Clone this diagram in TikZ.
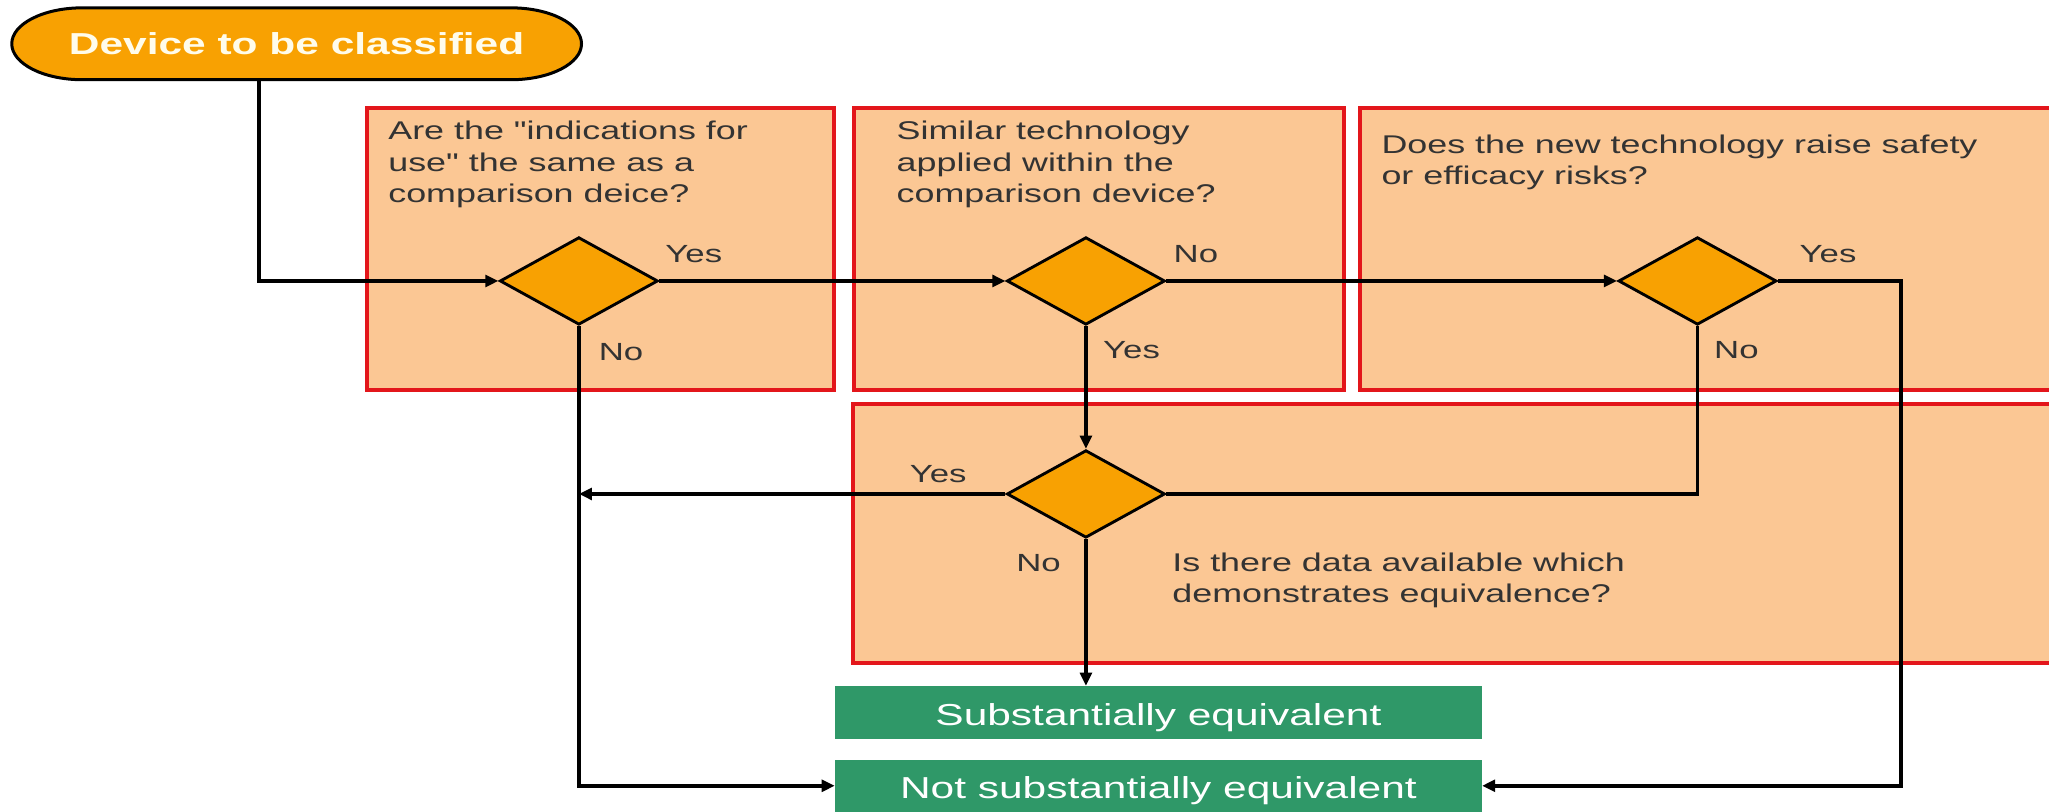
\documentclass[tikz,border=0pt]{standalone}
\usepackage{fontspec}
\setmainfont{Liberation Sans}[FakeStretch=1.4, Ligatures=TeXOff]
\usetikzlibrary{shapes.geometric,arrows.meta,calc}
\definecolor{peach}{HTML}{FBC794}
\definecolor{boxred}{HTML}{E3161B}
\definecolor{dorange}{HTML}{F8A102}
\definecolor{sgreen}{HTML}{2F9868}
\definecolor{txt}{HTML}{333333}
\definecolor{cream}{HTML}{FFFCEB}
\begin{document}
\begin{tikzpicture}[x=1pt,y=1pt,
  qbox/.style={draw=boxred, fill=peach, line width=3pt, rectangle, inner sep=0pt, anchor=north west},
  qtext/.style={anchor=north west, inner sep=0pt, align=left, text=txt, font=\fontsize{19.6}{24}\selectfont},
  lab/.style={anchor=base west, inner sep=0pt, text=txt, font=\fontsize{19}{23}\selectfont},
  dec/.style={diamond, draw=black, fill=dorange, line width=2.2pt, minimum width=121pt, minimum height=67pt, inner sep=0pt},
  res/.style={rectangle, fill=sgreen, text=white, minimum width=495pt, inner sep=0pt, text height=19.4pt, text depth=0pt, font=\fontsize{23.2}{26}\selectfont},
  conn/.style={line width=3pt, draw=black},
  arr/.style={conn, -{Triangle[length=10pt,width=9pt]}},
  startshape/.style={draw=black, fill=dorange, line width=2.3pt},
  starttext/.style={rectangle, inner sep=0pt, minimum width=436pt, minimum height=55pt, text=cream, font=\fontsize{23.2}{26}\selectfont\bfseries}
]
\clip (0,0) rectangle (1568,-621);
\fill[white] (0,0) rectangle (1568,-621);

% question boxes
\node[qbox, minimum width=358pt, minimum height=216pt] (b1) at (279,-81) {};
\node[qbox, minimum width=375pt, minimum height=216pt] (b2) at (652,-81) {};
\node[qbox, minimum width=540pt, minimum height=216pt] (b3) at (1039,-81) {};
\node[qbox, minimum width=924pt, minimum height=198pt] (b4) at (651,-308) {};

\node[qtext] (t1) at (297,-92.5) {Are the "indications for\\use" the same as a\\comparison deice?};
\node[qtext] (t2) at (686,-92.5) {Similar technology\\applied within the\\comparison device?};
\node[qtext] (t3) at (1057,-103) {Does the new technology raise safety\\or efficacy risks?};
\node[qtext] (t4) at (897,-423) {Is there data available which\\demonstrates equivalence?};

% start terminal
\path[startshape] (63,-6) -- (391,-6)
  arc[start angle=90, end angle=-90, x radius=54pt, y radius=27.5pt]
  -- (63,-61)
  arc[start angle=270, end angle=90, x radius=54pt, y radius=27.5pt] -- cycle;
\node[starttext] (start) at (227,-33.5) {Device to be classified};

% decisions
\node[dec] (d1) at (443,-215) {};
\node[dec] (d2) at (831,-215) {};
\node[dec] (d3) at (1299,-215) {};
\node[dec] (d4) at (831,-378) {};

% results
\node[res, minimum height=40.6pt] (se) at (886.5,-545.3) {Substantially equivalent};
\node[res, minimum height=39.4pt] (nse) at (886.5,-601.3) {Not substantially equivalent};

% helper coordinates
\coordinate (s0) at (198,0);
\coordinate (c3) at (1455,0);

% connectors
\draw[arr] (start.south -| s0) |- (d1.west);
\draw[arr] (d1.east) -- (d2.west);
\draw[arr] (d2.east) -- (d3.west);
\draw[arr] (d1.south) |- (nse.west);
\draw[arr] (d2.south) -- (d4.north);
\draw[arr] (d3.east) -- (d3.east -| c3) |- (nse.east);
\draw[conn] (d3.south) |- (d4.east);
\draw[arr] (d4.west) -- (d4.west -| d1.south);
\draw[arr] (d4.south) -- (d4.south |- se.north);

% labels
\node[lab] (l1y) at (509,-200.5) {Yes};
\node[lab] (l1n) at (458,-275.5) {No};
\node[lab] (l2n) at (898,-200.7) {No};
\node[lab] (l2y) at (844,-274) {Yes};
\node[lab] (l3y) at (1377,-200.6) {Yes};
\node[lab] (l3n) at (1311.6,-274) {No};
\node[lab] (l4y) at (696,-369.6) {Yes};
\node[lab] (l4n) at (777.5,-437.7) {No};
\end{tikzpicture}
\end{document}
